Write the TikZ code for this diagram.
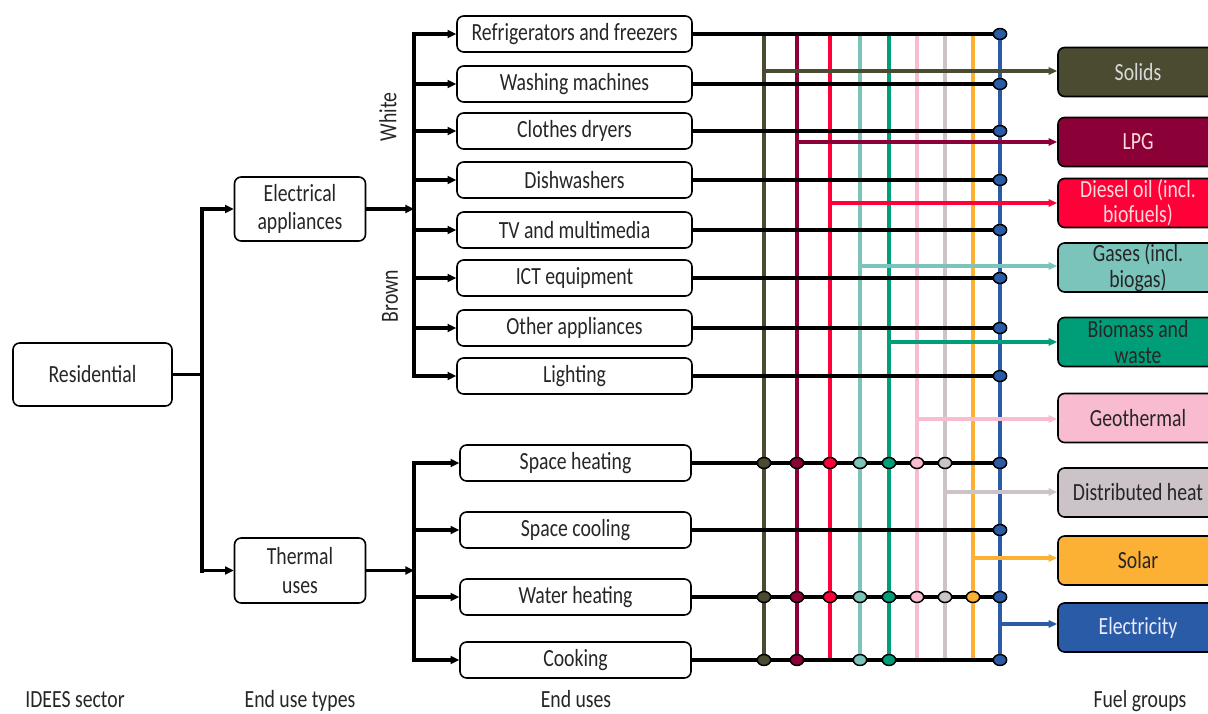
\documentclass[tikz,border=0pt]{standalone}
\usepackage{fontspec}
\setmainfont{Carlito}[FakeStretch=0.8]
\usetikzlibrary{arrows.meta,shapes.geometric}
\definecolor{solidsC}{HTML}{4B4B32}
\definecolor{lpgC}{HTML}{8B0037}
\definecolor{dieC}{HTML}{FF0038}
\definecolor{gasC}{HTML}{7BC4BB}
\definecolor{bioC}{HTML}{009E78}
\definecolor{geoC}{HTML}{F8BBD0}
\definecolor{dhC}{HTML}{CBC3C7}
\definecolor{solC}{HTML}{FCB034}
\definecolor{eleC}{HTML}{2A5BA6}
\definecolor{txtC}{HTML}{262626}
\tikzset{
  lbl/.style={font=\fontsize{18.5}{20.5}\selectfont, text=txtC, inner sep=0pt, align=center},
  box/.style={lbl, draw=black, line width=1.2pt, rounded corners=5pt, fill=white},
  usebox/.style={box, minimum width=176.25pt, minimum height=27pt},
  tusebox/.style={box, minimum width=173.25pt, minimum height=27pt},
  typebox/.style={box, font=\fontsize{18.5}{21.5}\selectfont, minimum width=98.25pt, minimum height=48pt},
  fuelbox/.style={box, font=\fontsize{18.5}{19}\selectfont, minimum width=120pt, minimum height=36.75pt},
  tree/.style={line width=3.2pt, line cap=rect},
  arr/.style={line width=2.4pt, -{Triangle[length=6.5pt,width=6pt]}},
  rowline/.style={line width=2.7pt, black},
  fline/.style={line width=2.8pt},
  farr/.style={line width=2.4pt, -{Triangle[length=6.5pt,width=5.5pt]}},
  dot/.style={ellipse, draw=black, line width=1.1pt, minimum width=10pt, minimum height=8.2pt, inner sep=0pt},
  foot/.style={lbl, anchor=base}
}
\begin{document}
\begin{tikzpicture}[x=0.75pt,y=-0.75pt]
\useasboundingbox (0,0) rectangle (1208,714);
\clip (0,0) rectangle (1208,714);

% sector and types
\node[box, minimum width=119.25pt, minimum height=47.25pt] (res) at (92.5,374.5) {Residential};
\node[typebox] (elec) at (300,209) {Electrical\\appliances};
\node[typebox, minimum height=48.75pt] (therm) at (300,570.5) {Thermal\\uses};

% end uses
\node[usebox] (fr) at (574.5,34) {Refrigerators and freezers};
\node[usebox] (wa) at (574.5,84) {Washing machines};
\node[usebox] (cl) at (574.5,131) {Clothes dryers};
\node[usebox] (di) at (574.5,180) {Dishwashers};
\node[usebox] (tv) at (574.5,230) {TV and multimedia};
\node[usebox] (ic) at (574.5,278) {ICT equipment};
\node[usebox] (ot) at (574.5,328) {Other appliances};
\node[usebox] (li) at (574.5,376) {Lighting};
\node[tusebox] (sh) at (575.5,463) {Space heating};
\node[tusebox] (sc) at (575.5,530) {Space cooling};
\node[tusebox] (wh) at (575.5,597) {Water heating};
\node[tusebox] (co) at (575.5,660) {Cooking};

\node[lbl, rotate=90] (white) at (388,117) {White};
\node[lbl, rotate=90] (brown) at (390,296) {Brown};

% fuel boxes
\node[fuelbox, fill=solidsC, text=white!85!black] (fS) at (1138,72) {Solids};
\node[fuelbox, fill=lpgC, text=pink!60!white] (fL) at (1138,142) {LPG};
\node[fuelbox, fill=dieC, text=pink!60!white] (fD) at (1138,203) {Diesel oil (incl.\\biofuels)};
\node[fuelbox, fill=gasC] (fG) at (1138,267.5) {Gases (incl.\\biogas)};
\node[fuelbox, fill=bioC] (fB) at (1138,342) {Biomass and\\waste};
\node[fuelbox, fill=geoC] (fGe) at (1138,418) {Geothermal};
\node[fuelbox, fill=dhC] (fH) at (1138,492.5) {Distributed heat};
\node[fuelbox, fill=solC] (fSo) at (1138,560.5) {Solar};
\node[fuelbox, fill=eleC, text=blue!8!white] (fE) at (1138,627.5) {Electricity};

% bottom labels
\node[foot] (t1) at (75,707) {IDEES sector};
\node[foot] (t2) at (300,707) {End use types};
\node[foot] (t3) at (576,707) {End uses};
\node[foot] (t4) at (1140,707) {Fuel groups};

% tree
\coordinate (j1) at (202,374.5);
\coordinate (j2) at (414,209);
\draw[line width=2.6pt] (res.east) -- (j1);
\draw[tree] (j1 |- elec.west) -- (j1 |- therm.west);
\draw[arr] (j1 |- elec.west) -- (elec.west);
\draw[arr] (j1 |- therm.west) -- (therm.west);
\draw[arr] (elec.east) -- (j2);
\draw[arr] (therm.east) -- (j2 |- therm.east);
\draw[tree] (j2 |- fr.west) -- (j2 |- li.west);
\draw[tree] (j2 |- sh.west) -- (j2 |- co.west);
\foreach \r in {fr,wa,cl,di,tv,ic,ot,li,sh,sc,wh,co}
  \draw[arr] (j2 |- \r.west) -- (\r.west);

% fuel columns
\coordinate (xS) at (764,0);
\coordinate (xL) at (797,0);
\coordinate (xD) at (830,0);
\coordinate (xG) at (860,0);
\coordinate (xB) at (889,0);
\coordinate (xGe) at (917,0);
\coordinate (xH) at (945,0);
\coordinate (xSo) at (973,0);
\coordinate (xE) at (1000,0);

\foreach \f/\c in {S/solidsC,L/lpgC,D/dieC,G/gasC,B/bioC,Ge/geoC,H/dhC,So/solC,E/eleC}
  \draw[fline, \c] (x\f |- fr.east) -- (x\f |- co.east);

% branches to fuel groups
\coordinate (bS) at (764,71);
\coordinate (bL) at (797,142);
\coordinate (bD) at (830,203);
\coordinate (bG) at (860,266);
\coordinate (bB) at (889,342);
\coordinate (bGe) at (917,419);
\coordinate (bH) at (945,492);
\coordinate (bSo) at (973,558);
\coordinate (bE) at (1000,624);
\foreach \f/\c in {S/solidsC,L/lpgC,D/dieC,G/gasC,B/bioC,Ge/geoC,H/dhC,So/solC,E/eleC}
  \draw[farr, \c] (b\f) -- (b\f -| f\f.west);

% row lines and dots
\foreach \r in {fr,wa,cl,di,tv,ic,ot,li,sh,sc,wh,co}
  \draw[rowline] (\r.east) -- (\r.east -| xE);
\foreach \r in {fr,wa,cl,di,tv,ic,ot,li,sc}
  \node[dot, fill=eleC] (d-\r-E) at (\r.east -| xE) {};
\foreach \f/\c in {S/solidsC,L/lpgC,D/dieC,G/gasC,B/bioC,Ge/geoC,H/dhC,E/eleC}
  \node[dot, fill=\c] (d-sh-\f) at (sh.east -| x\f) {};
\foreach \f/\c in {S/solidsC,L/lpgC,D/dieC,G/gasC,B/bioC,Ge/geoC,H/dhC,So/solC,E/eleC}
  \node[dot, fill=\c] (d-wh-\f) at (wh.east -| x\f) {};
\foreach \f/\c in {S/solidsC,L/lpgC,G/gasC,B/bioC,E/eleC}
  \node[dot, fill=\c] (d-co-\f) at (co.east -| x\f) {};
\end{tikzpicture}
\end{document}
